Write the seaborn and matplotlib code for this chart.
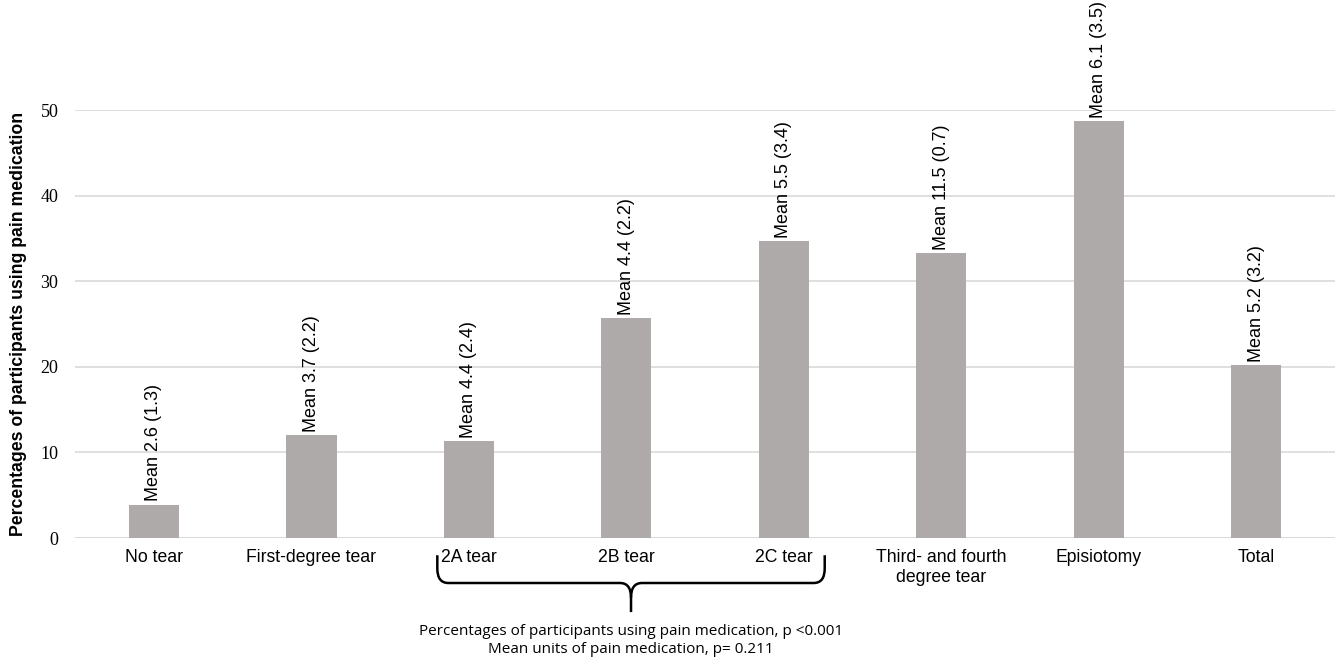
import matplotlib
matplotlib.use("Agg")
import matplotlib.pyplot as plt
import seaborn as sns
import pandas as pd
from matplotlib.path import Path
from matplotlib.patches import PathPatch
from matplotlib.transforms import blended_transform_factory

categories = ["No tear", "First-degree tear", "2A tear", "2B tear", "2C tear",
              "Third- and fourth\ndegree tear", "Episiotomy", "Total"]
pct_using = [3.9, 12.0, 11.3, 25.7, 34.7, 33.3, 48.7, 20.2]
mean_units = ["2.6 (1.3)", "3.7 (2.2)", "4.4 (2.4)", "4.4 (2.2)", "5.5 (3.4)",
              "11.5 (0.7)", "6.1 (3.5)", "5.2 (3.2)"]
yticks = [0, 10, 20, 30, 40, 50]
note_lines = ["Percentages of participants using pain medication, p <0.001",
              "Mean units of pain medication, p= 0.211"]

df = pd.DataFrame({"group": categories, "pct": pct_using})

sns.set_style("white")
plt.rcParams["text.color"] = "black"
plt.rcParams["xtick.color"] = "black"
plt.rcParams["ytick.color"] = "black"
plt.rcParams["axes.labelcolor"] = "black"

fig = plt.figure(figsize=(13.41, 6.61), dpi=100)
ax = fig.add_axes([0.056, 0.186, 0.9395, 0.6475])

sns.barplot(data=df, x="group", y="pct", color="#AEAAAA", saturation=1,
            width=0.32, linewidth=0, ax=ax)

ax.set_ylim(0, 50)
ax.set_yticks(yticks)
ax.set_yticklabels([str(t) for t in yticks], family="Liberation Serif", fontsize=13)
ax.yaxis.grid(True, color="#D9D9D9", lw=1.2)
ax.set_axisbelow(True)
for s in ax.spines.values():
    s.set_visible(False)
ax.axhline(0, color="#D9D9D9", lw=1.2, zorder=0.5)
ax.tick_params(axis="both", length=0)
ax.tick_params(axis="y", pad=12)
ax.tick_params(axis="x", pad=8)
for lab in ax.get_xticklabels():
    lab.set_family("Liberation Sans")
    lab.set_fontsize(12.7)
ax.set_xlabel("")
ax.set_ylabel("Percentages of participants using pain medication",
              family="Liberation Sans", fontweight="bold", fontsize=12.7, labelpad=10)

# mean labels above bars
for i, (v, m) in enumerate(zip(pct_using, mean_units)):
    ax.text(i, v + 0.4, f"Mean {m}", rotation=90, ha="center", va="bottom",
            family="Liberation Sans", fontsize=13, clip_on=False)

# curly brace under the 2A-2C groups
tr = blended_transform_factory(ax.transData, fig.transFigure)
xl, xr, xc = 1.8, 4.26, 3.03
ytop, ymid, ybot = 0.160, 0.118, 0.074
r_x, r_y = 0.07, 0.022
left = Path([(xl, ytop), (xl, ymid + r_y), (xl, ymid), (xl + r_x, ymid),
             (xc - r_x, ymid), (xc, ymid), (xc, ymid - r_y), (xc, ybot)],
            [Path.MOVETO, Path.LINETO, Path.CURVE3, Path.CURVE3,
             Path.LINETO, Path.CURVE3, Path.CURVE3, Path.LINETO])
right = Path([(xr, ytop), (xr, ymid + r_y), (xr, ymid), (xr - r_x, ymid),
              (xc + r_x, ymid), (xc, ymid), (xc, ymid - r_y)],
             [Path.MOVETO, Path.LINETO, Path.CURVE3, Path.CURVE3,
              Path.LINETO, Path.CURVE3, Path.CURVE3])
for p in (left, right):
    ax.add_patch(PathPatch(p, transform=tr, fill=False, lw=1.8,
                           edgecolor="black", clip_on=False))

ax.text(xc, 0.045, note_lines[0], transform=tr, ha="center", va="center",
        family="Open Sans", fontsize=11)
ax.text(xc, 0.018, note_lines[1], transform=tr, ha="center", va="center",
        family="Open Sans", fontsize=11)

fig.savefig("out.png", dpi=100)
